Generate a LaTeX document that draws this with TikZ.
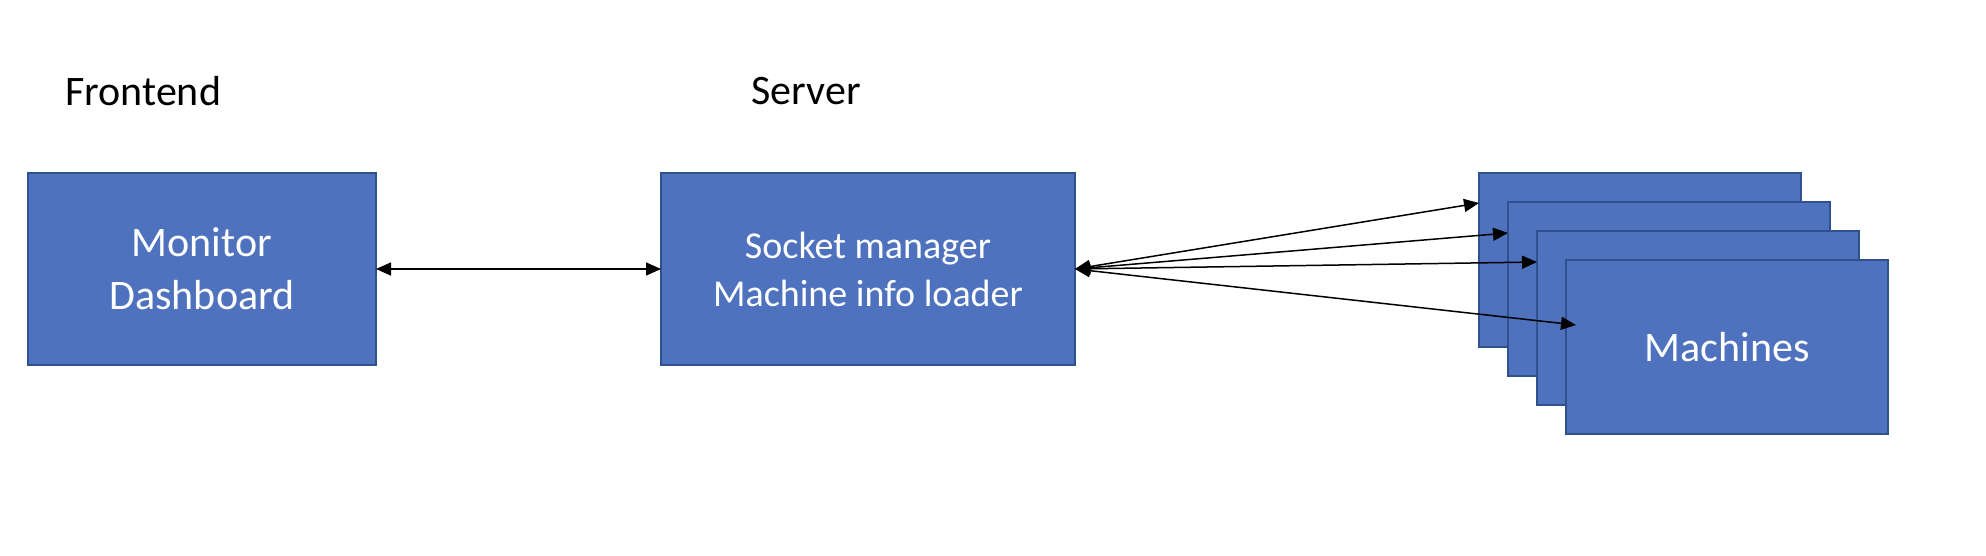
\documentclass[tikz,border=0pt]{standalone}
\usepackage{fontspec}
\setmainfont{Carlito}
\usetikzlibrary{arrows.meta,calc}
\definecolor{boxfill}{HTML}{4E72BE}
\definecolor{boxline}{HTML}{2F528F}
\begin{document}
\begin{tikzpicture}[x=0.5pt,y=-0.5pt,
  box/.style={draw=boxline, line width=1.2pt, fill=boxfill, text=white, anchor=north west,
    inner sep=0pt, outer sep=0pt, align=center},
  bigtext/.style={font=\fontsize{21}{26.5}\selectfont},
  smalltext/.style={font=\fontsize{19}{24}\selectfont},
  heading/.style={anchor=west, inner sep=0pt, font=\fontsize{21}{25}\selectfont},
  link/.style={line width=0.75pt, {Triangle[length=7.5pt,width=6.5pt]}-{Triangle[length=7.5pt,width=6.5pt]}}
]
\useasboundingbox (0,0) rectangle (1986,556);
% headings
\node[heading] (fe) at (65,91) {Frontend};
\node[heading] (sv) at (751,91) {Server};
% main boxes
\node[box, bigtext, minimum width=174pt, minimum height=96pt] (mon) at (28,173) {Monitor\\Dashboard};
\node[box, smalltext, minimum width=207pt, minimum height=96pt] (srv) at (661,173) {Socket manager\\Machine info loader};
% machines stack
\node[box, minimum width=161pt, minimum height=87pt] (m1) at (1479,173) {};
\node[box, minimum width=161pt, minimum height=87pt] (m2) at (1508,202) {};
\node[box, minimum width=161pt, minimum height=87pt] (m3) at (1537,231) {};
\node[box, bigtext, minimum width=161pt, minimum height=87pt] (m4) at (1566,260) {Machines};
% arrow ends
\coordinate (t1) at ($(m1.north west)+(0,30)$);
\coordinate (t2) at ($(m2.north west)+(0,31)$);
\coordinate (t3) at ($(m3.north west)+(0,31)$);
\coordinate (t4) at ($(m4.north west)+(10,65)$);
% connectors
\draw[link] (mon.east) -- (srv.west);
\draw[link] (srv.east) -- (t1);
\draw[link] (srv.east) -- (t2);
\draw[link] (srv.east) -- (t3);
\draw[link] (srv.east) -- (t4);
\end{tikzpicture}
\end{document}
